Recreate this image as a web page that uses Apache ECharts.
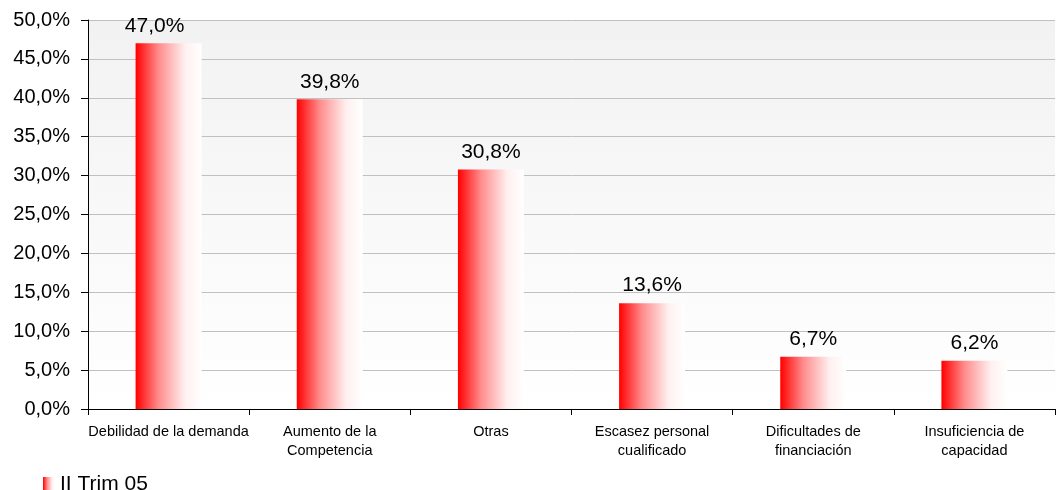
<!DOCTYPE html>
<html>
<head>
<meta charset="utf-8">
<script src="https://cdn.jsdelivr.net/npm/echarts@6/dist/echarts.min.js"></script>
<style>html,body{margin:0;padding:0;background:#fff}#c{width:1056px;height:490px}</style>
</head>
<body>
<div id="c"></div>
<script>
var categories = ["Debilidad de la demanda", "Aumento de la\nCompetencia", "Otras", "Escasez personal\ncualificado", "Dificultades de\nfinanciación", "Insuficiencia de\ncapacidad"];
var seriesName = "II Trim 05";
var values = [47.0, 39.8, 30.8, 13.6, 6.7, 6.2];
var yMin = 0, yMax = 50, yStep = 5;

function fmt(v){ return v.toFixed(1).replace('.', ',') + '%'; }

var chart = echarts.init(document.getElementById('c'));
var font = 'Liberation Sans, Arial, sans-serif';
var barGrad = new echarts.graphic.LinearGradient(0, 0, 1, 0, [
  {offset: 0, color: '#ff0000'},
  {offset: 0.35, color: '#ff8c8c'},
  {offset: 0.75, color: '#fff0f0'},
  {offset: 1, color: '#ffffff'}
]);
// the top label sits slightly left of its bar in the reference
var barData = values.map(function(v, i){
  return i === 0 ? {value: v, label: {offset: [-14, 0]}} : v;
});
chart.setOption({
  animation: false,
  textStyle: {fontFamily: font},
  grid: {left: 88, right: 1, top: 20, bottom: 81, containLabel: false,
    show: true, borderWidth: 0,
    backgroundColor: new echarts.graphic.LinearGradient(0, 0, 0, 1, [
      {offset: 0, color: '#f2f2f2'}, {offset: 1, color: '#ffffff'}
    ])
  },
  legend: {
    left: 43, top: 474, itemWidth: 12, itemHeight: 15, itemGap: 8, padding: 0,
    icon: 'rect',
    textStyle: {fontSize: 21, color: '#000', fontFamily: font},
    data: [seriesName]
  },
  xAxis: {
    type: 'category', data: categories,
    axisLine: {lineStyle: {color: '#000', width: 1}},
    axisTick: {show: true, length: 6, lineStyle: {color: '#000'}, alignWithLabel: false},
    axisLabel: {fontSize: 14.5, color: '#000', margin: 13, lineHeight: 19, fontFamily: font, interval: 0}
  },
  yAxis: {
    type: 'value', min: yMin, max: yMax, interval: yStep,
    axisLine: {show: true, lineStyle: {color: '#000', width: 1}},
    axisTick: {show: true, length: 7, lineStyle: {color: '#000'}},
    axisLabel: {fontSize: 20, color: '#000', margin: 18, fontFamily: font, formatter: function(v){ return fmt(v); }},
    splitLine: {show: true, lineStyle: {color: '#c0c0c0', width: 1}}
  },
  series: [{
    name: seriesName, type: 'bar', data: barData, barWidth: 66,
    itemStyle: {color: barGrad},
    label: {show: true, position: 'top', distance: 7, fontSize: 21, color: '#000', fontFamily: font,
      formatter: function(p){ return fmt(p.value); }}
  }]
});
</script>
</body>
</html>
